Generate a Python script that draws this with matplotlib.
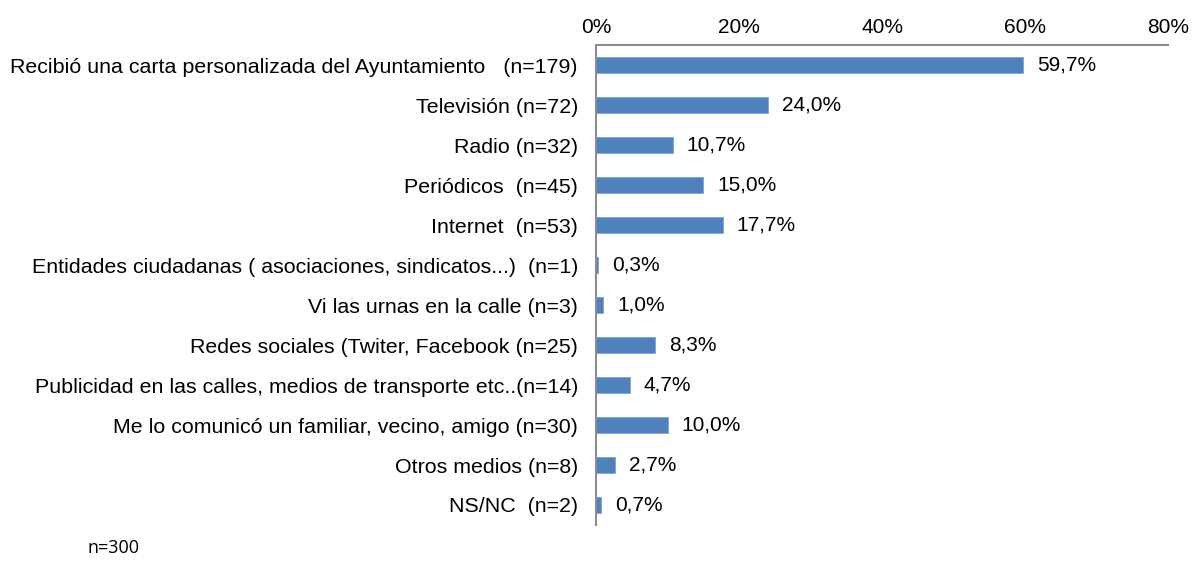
import matplotlib
matplotlib.use("Agg")
import matplotlib.pyplot as plt
from matplotlib.ticker import FuncFormatter

categories = [
    "Recibió una carta personalizada del Ayuntamiento   (n=179)",
    "Televisión (n=72)",
    "Radio (n=32)",
    "Periódicos  (n=45)",
    "Internet  (n=53)",
    "Entidades ciudadanas ( asociaciones, sindicatos...)  (n=1)",
    "Vi las urnas en la calle (n=3)",
    "Redes sociales (Twiter, Facebook (n=25)",
    "Publicidad en las calles, medios de transporte etc..(n=14)",
    "Me lo comunicó un familiar, vecino, amigo (n=30)",
    "Otros medios (n=8)",
    "NS/NC  (n=2)",
]
values = [59.7, 24.0, 10.7, 15.0, 17.7, 0.3, 1.0, 8.3, 4.7, 10.0, 2.7, 0.7]
xticks = [0, 20, 40, 60, 80]
note = "n=300"

plt.rcParams['font.family'] = ['Liberation Sans', 'DejaVu Sans']

W, H = 1203, 566
fig = plt.figure(figsize=(W / 100, H / 100), dpi=100)
ax = fig.add_axes([596 / W, (H - 525) / H, (1168 - 596) / W, 480 / H])

ypos = list(range(len(categories)))
ax.barh(ypos, values, height=0.4, color='#4F81BD', edgecolor='#7FA3D3', linewidth=0.6)
ax.set_ylim(len(categories) - 0.5, -0.5)
ax.set_xlim(0, 80)

ax.xaxis.tick_top()
ax.set_xticks(xticks)
ax.xaxis.set_major_formatter(FuncFormatter(lambda v, p: f"{v:.0f}%"))
ax.tick_params(axis='x', length=0, pad=6, labelsize=15)
ax.set_yticks(ypos)
ax.set_yticklabels(categories, fontsize=15.4)
ax.tick_params(axis='y', length=0, pad=13)

for s in ['right', 'bottom']:
    ax.spines[s].set_visible(False)
for s in ['top', 'left']:
    ax.spines[s].set_color('#8C8C8C')
    ax.spines[s].set_linewidth(1.5)

for y, v in zip(ypos, values):
    ax.annotate(f"{v:.1f}".replace('.', ',') + "%", xy=(v, y), xytext=(14, 0),
                textcoords='offset pixels', va='center', ha='left', fontsize=15)

fig.text(87 / W, 1 - 548 / H, note, fontsize=13, family=['Open Sans', 'DejaVu Sans'],
         va='center', ha='left')

fig.savefig('out.png', dpi=100)
